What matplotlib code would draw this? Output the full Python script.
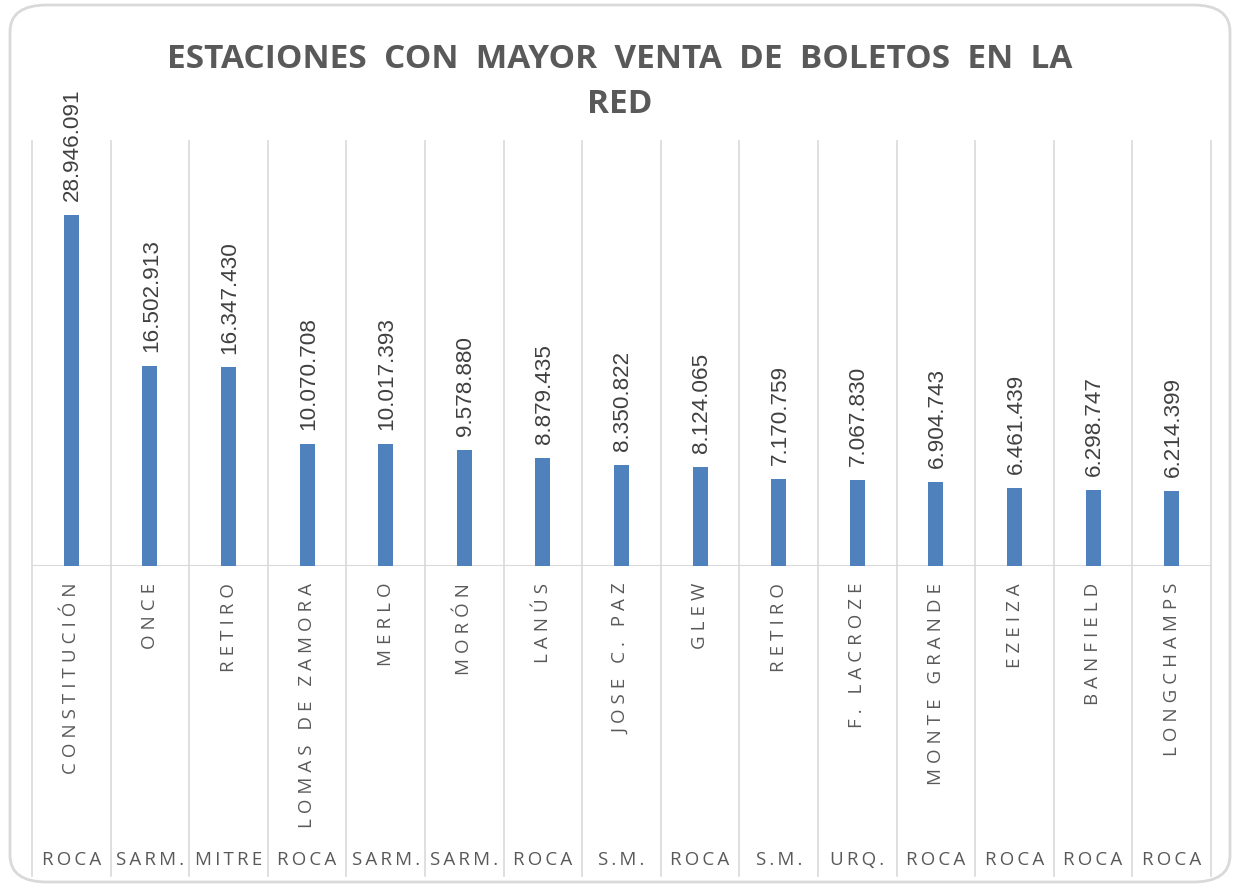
import matplotlib.pyplot as plt
from matplotlib.patches import FancyBboxPatch

# datos del grafico
estaciones = ["CONSTITUCIÓN", "ONCE", "RETIRO", "LOMAS DE ZAMORA", "MERLO", "MORÓN",
              "LANÚS", "JOSE C. PAZ", "GLEW", "RETIRO", "F. LACROZE", "MONTE GRANDE",
              "EZEIZA", "BANFIELD", "LONGCHAMPS"]
lineas = ["ROCA", "SARM.", "MITRE", "ROCA", "SARM.", "SARM.", "ROCA", "S.M.",
          "ROCA", "S.M.", "URQ.", "ROCA", "ROCA", "ROCA", "ROCA"]
boletos = [28946091, 16502913, 16347430, 10070708, 10017393, 9578880, 8879435,
           8350822, 8124065, 7170759, 7067830, 6904743, 6461439, 6298747, 6214399]
titulo = "ESTACIONES  CON  MAYOR  VENTA  DE  BOLETOS  EN  LA\nRED"

gris = "#595959"
linea_gris = "#d9d9d9"
azul = "#4f81bd"


def espaciar(s, sep="\u2009"):
    # imita el espaciado de letras de Excel
    return sep.join(s)


W, H = 1233, 889
fig = plt.figure(figsize=(W / 100, H / 100), dpi=100)

# borde redondeado
borde = FancyBboxPatch((10 / W, 7 / H), 1220 / W, 877 / H,
                       boxstyle="round,pad=0,rounding_size=0.03",
                       transform=fig.transFigure, fc="none", ec=linea_gris, lw=2,
                       zorder=-1)
fig.patches.append(borde)

ax = fig.add_axes([32 / W, 1 - 566 / H, (1211 - 32) / W, (566 - 141) / H])
ax.set_facecolor("none")
x = list(range(len(boletos)))
ax.bar(x, boletos, width=0.19, color=azul, zorder=3)
ax.set_xlim(-0.5, len(boletos) - 0.5)
ax.set_ylim(0, 35e6)
for s in ax.spines.values():
    s.set_visible(False)
ax.set_xticks([])
ax.set_yticks([])
ax.axhline(0, color=linea_gris, lw=1.5, zorder=2)

tr = ax.get_xaxis_transform()
abajo = -(876 - 566) / 425
for i in range(len(boletos) + 1):
    ax.plot([i - 0.5, i - 0.5], [1, abajo], color=linea_gris, lw=1.2,
            transform=tr, clip_on=False, zorder=1)

fuente = ["Open Sans", "DejaVu Sans"]
for i, v in enumerate(boletos):
    etiqueta = f"{v:,}".replace(",", ".")
    ax.annotate(etiqueta, (i, v), xytext=(1, 10), textcoords="offset points",
                rotation=90, ha="center", va="bottom", fontsize=16.2,
                family="Liberation Sans", color="#404040")
    ax.text(i, -0.04, espaciar(estaciones[i], "\u2009\u200a"), transform=tr,
            rotation=90, ha="center", va="top", fontsize=13.5, family=fuente,
            color=gris)
    ax.text(i, -0.692, espaciar(lineas[i]), transform=tr, ha="center",
            va="center", fontsize=13.5, family=fuente, color=gris)

fig.text(620 / W, 1 - 82 / H, titulo, ha="center", va="center", fontsize=24,
         fontweight="bold", family="Open Sans", color=gris, linespacing=1.5)

fig.savefig("out.png", dpi=100)
